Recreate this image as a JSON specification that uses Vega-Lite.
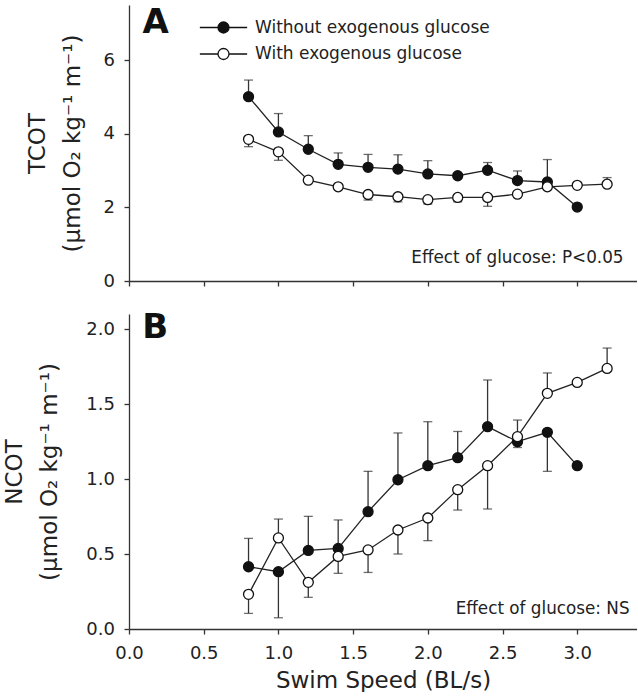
{
  "$schema": "https://vega.github.io/schema/vega-lite/v6.json",
  "padding": {"left": 3, "top": 5, "right": 0, "bottom": 0},
  "background": "white",
  "config": {
    "font": "DejaVu Sans",
    "view": {"stroke": null},
    "axis": {
      "grid": false,
      "domainColor": "#333",
      "tickColor": "#333",
      "domainWidth": 1.3,
      "tickWidth": 1.3,
      "tickSize": 5,
      "labelFont": "DejaVu Sans",
      "labelFontSize": 18,
      "labelColor": "#222",
      "labelFlush": false,
      "titleFont": "DejaVu Sans",
      "titleColor": "#222",
      "titleFontSize": 23,
      "titleFontWeight": "normal",
      "labelPadding": 9.5
    }
  },
  "datasets": {
    "tcot": [
      {"speed": 0.8, "group": "Without exogenous glucose", "value": 5.01, "err": 5.46},
      {"speed": 1.0, "group": "Without exogenous glucose", "value": 4.05, "err": 4.55},
      {"speed": 1.2, "group": "Without exogenous glucose", "value": 3.58, "err": 3.95},
      {"speed": 1.4, "group": "Without exogenous glucose", "value": 3.17, "err": 3.48},
      {"speed": 1.6, "group": "Without exogenous glucose", "value": 3.09, "err": 3.44},
      {"speed": 1.8, "group": "Without exogenous glucose", "value": 3.04, "err": 3.43},
      {"speed": 2.0, "group": "Without exogenous glucose", "value": 2.91, "err": 3.27},
      {"speed": 2.2, "group": "Without exogenous glucose", "value": 2.86, "err": null},
      {"speed": 2.4, "group": "Without exogenous glucose", "value": 3.01, "err": 3.22},
      {"speed": 2.6, "group": "Without exogenous glucose", "value": 2.73, "err": 2.99},
      {"speed": 2.8, "group": "Without exogenous glucose", "value": 2.69, "err": 3.30},
      {"speed": 3.0, "group": "Without exogenous glucose", "value": 2.01, "err": null},
      {"speed": 0.8, "group": "With exogenous glucose", "value": 3.85, "err": 3.65},
      {"speed": 1.0, "group": "With exogenous glucose", "value": 3.51, "err": 3.28},
      {"speed": 1.2, "group": "With exogenous glucose", "value": 2.74, "err": null},
      {"speed": 1.4, "group": "With exogenous glucose", "value": 2.56, "err": null},
      {"speed": 1.6, "group": "With exogenous glucose", "value": 2.35, "err": 2.20},
      {"speed": 1.8, "group": "With exogenous glucose", "value": 2.29, "err": 2.15},
      {"speed": 2.0, "group": "With exogenous glucose", "value": 2.21, "err": 2.09},
      {"speed": 2.2, "group": "With exogenous glucose", "value": 2.27, "err": 2.15},
      {"speed": 2.4, "group": "With exogenous glucose", "value": 2.27, "err": 2.03},
      {"speed": 2.6, "group": "With exogenous glucose", "value": 2.36, "err": null},
      {"speed": 2.8, "group": "With exogenous glucose", "value": 2.56, "err": null},
      {"speed": 3.0, "group": "With exogenous glucose", "value": 2.60, "err": null},
      {"speed": 3.2, "group": "With exogenous glucose", "value": 2.63, "err": 2.81}
    ],
    "ncot": [
      {"speed": 0.8, "group": "Without exogenous glucose", "value": 0.415, "err": 0.604},
      {"speed": 1.0, "group": "Without exogenous glucose", "value": 0.382, "err": 0.075},
      {"speed": 1.2, "group": "Without exogenous glucose", "value": 0.524, "err": 0.751},
      {"speed": 1.4, "group": "Without exogenous glucose", "value": 0.537, "err": 0.727},
      {"speed": 1.6, "group": "Without exogenous glucose", "value": 0.782, "err": 1.051},
      {"speed": 1.8, "group": "Without exogenous glucose", "value": 0.995, "err": 1.307},
      {"speed": 2.0, "group": "Without exogenous glucose", "value": 1.089, "err": 1.382},
      {"speed": 2.2, "group": "Without exogenous glucose", "value": 1.142, "err": 1.317},
      {"speed": 2.4, "group": "Without exogenous glucose", "value": 1.349, "err": 1.66},
      {"speed": 2.6, "group": "Without exogenous glucose", "value": 1.249, "err": 1.21},
      {"speed": 2.8, "group": "Without exogenous glucose", "value": 1.311, "err": 1.051},
      {"speed": 3.0, "group": "Without exogenous glucose", "value": 1.089, "err": null},
      {"speed": 0.8, "group": "With exogenous glucose", "value": 0.231, "err": 0.104},
      {"speed": 1.0, "group": "With exogenous glucose", "value": 0.607, "err": 0.733},
      {"speed": 1.2, "group": "With exogenous glucose", "value": 0.311, "err": 0.211},
      {"speed": 1.4, "group": "With exogenous glucose", "value": 0.484, "err": 0.371},
      {"speed": 1.6, "group": "With exogenous glucose", "value": 0.527, "err": 0.377},
      {"speed": 1.8, "group": "With exogenous glucose", "value": 0.66, "err": 0.5},
      {"speed": 2.0, "group": "With exogenous glucose", "value": 0.74, "err": 0.589},
      {"speed": 2.2, "group": "With exogenous glucose", "value": 0.929, "err": 0.793},
      {"speed": 2.4, "group": "With exogenous glucose", "value": 1.089, "err": 0.80},
      {"speed": 2.6, "group": "With exogenous glucose", "value": 1.282, "err": 1.393},
      {"speed": 2.8, "group": "With exogenous glucose", "value": 1.571, "err": 1.707},
      {"speed": 3.0, "group": "With exogenous glucose", "value": 1.644, "err": null},
      {"speed": 3.2, "group": "With exogenous glucose", "value": 1.737, "err": 1.873}
    ]
  },
  "spacing": 21,
  "resolve": {"scale": {"fill": "independent"}, "legend": {"fill": "independent"}},
  "vconcat": [
    {
      "width": 508,
      "height": 276,
      "layer": [
        {
          "data": {"name": "tcot"},
          "transform": [{"filter": "datum.err != null"}],
          "mark": {"type": "rule", "color": "#333", "strokeWidth": 1.3},
          "encoding": {
            "x": {"field": "speed", "type": "quantitative", "scale": {"domain": [0, 3.4], "nice": false}, "axis": {"title": null, "labels": false, "values": [0, 0.5, 1, 1.5, 2, 2.5, 3]}},
            "y": {"field": "value", "type": "quantitative", "scale": {"domain": [0, 7.5], "nice": false}, "axis": {"title": ["TCOT", "(µmol O₂ kg⁻¹ m⁻¹)"], "titleLineHeight": 35, "titlePadding": 19, "values": [0, 2, 4, 6]}},
            "y2": {"field": "err"}
          }
        },
        {
          "data": {"name": "tcot"},
          "transform": [{"filter": "datum.err != null"}],
          "mark": {"type": "tick", "orient": "horizontal", "color": "#333", "size": 9, "thickness": 1.3},
          "encoding": {
            "x": {"field": "speed", "type": "quantitative"},
            "y": {"field": "err", "type": "quantitative", "axis": {"title": ["TCOT", "(µmol O₂ kg⁻¹ m⁻¹)"], "titleLineHeight": 35, "titlePadding": 19, "values": [0, 2, 4, 6]}}
          }
        },
        {
          "data": {"name": "tcot"},
          "mark": {"type": "line", "color": "#222", "strokeWidth": 1.3},
          "encoding": {
            "x": {"field": "speed", "type": "quantitative"},
            "y": {"field": "value", "type": "quantitative"},
            "detail": {"field": "group"}
          }
        },
        {
          "data": {"name": "tcot"},
          "mark": {"type": "point", "shape": "circle", "filled": true, "size": 100, "stroke": "#111", "strokeWidth": 1.3, "opacity": 1},
          "encoding": {
            "x": {"field": "speed", "type": "quantitative"},
            "y": {"field": "value", "type": "quantitative"},
            "fill": {
              "field": "group",
              "type": "nominal",
              "scale": {"domain": ["Without exogenous glucose", "With exogenous glucose"], "range": ["#111", "white"]},
              "legend": {
                "title": null,
                "orient": "none",
                "legendX": 86,
                "legendY": 14,
                "padding": 0,
                "symbolType": "M-4.3,0H-1M1,0H4.3M-1,0A1,1,0,1,0,1,0A1,1,0,1,0,-1,0Z",
                "symbolSize": 121,
                "symbolStrokeColor": "#111",
                "symbolStrokeWidth": 1.3,
                "symbolOpacity": 1,
                "labelFont": "DejaVu Sans",
                "labelFontSize": 17,
                "labelColor": "#222",
                "labelLimit": 500,
                "labelOffset": 23,
                "rowPadding": 8.5
              }
            }
          }
        },
        {
          "data": {"values": [{}]},
          "mark": {"type": "text", "text": "A", "font": "DejaVu Sans", "fontWeight": "bold", "fontSize": 34, "align": "left", "baseline": "alphabetic", "color": "#111"},
          "encoding": {
            "x": {"datum": 0.09, "type": "quantitative"},
            "y": {"datum": 6.73, "type": "quantitative"}
          }
        },
        {
          "data": {"values": [{}]},
          "mark": {"type": "text", "text": "Effect of glucose: P<0.05", "font": "DejaVu Sans", "fontSize": 16.8, "align": "right", "baseline": "alphabetic", "color": "#222"},
          "encoding": {
            "x": {"datum": 3.31, "type": "quantitative"},
            "y": {"datum": 0.48, "type": "quantitative"}
          }
        }
      ]
    },
    {
      "width": 508,
      "height": 315,
      "layer": [
        {
          "data": {"name": "ncot"},
          "transform": [{"filter": "datum.err != null"}],
          "mark": {"type": "rule", "color": "#333", "strokeWidth": 1.3},
          "encoding": {
            "x": {"field": "speed", "type": "quantitative", "scale": {"domain": [0, 3.4], "nice": false}, "axis": {"title": "Swim Speed (BL/s)", "values": [0, 0.5, 1, 1.5, 2, 2.5, 3], "format": ".1f", "labelPadding": 10, "titlePadding": 7}},
            "y": {"field": "value", "type": "quantitative", "scale": {"domain": [0, 2.1], "nice": false}, "axis": {"title": ["NCOT", "(µmol O₂ kg⁻¹ m⁻¹)"], "titleLineHeight": 35, "titlePadding": 24, "values": [0, 0.5, 1, 1.5, 2], "format": ".1f"}},
            "y2": {"field": "err"}
          }
        },
        {
          "data": {"name": "ncot"},
          "transform": [{"filter": "datum.err != null"}],
          "mark": {"type": "tick", "orient": "horizontal", "color": "#333", "size": 9, "thickness": 1.3},
          "encoding": {
            "x": {"field": "speed", "type": "quantitative"},
            "y": {"field": "err", "type": "quantitative", "axis": {"title": ["NCOT", "(µmol O₂ kg⁻¹ m⁻¹)"], "titleLineHeight": 35, "titlePadding": 24, "values": [0, 0.5, 1, 1.5, 2], "format": ".1f"}}
          }
        },
        {
          "data": {"name": "ncot"},
          "mark": {"type": "line", "color": "#222", "strokeWidth": 1.3},
          "encoding": {
            "x": {"field": "speed", "type": "quantitative"},
            "y": {"field": "value", "type": "quantitative"},
            "detail": {"field": "group"}
          }
        },
        {
          "data": {"name": "ncot"},
          "mark": {"type": "point", "shape": "circle", "filled": true, "size": 100, "stroke": "#111", "strokeWidth": 1.3, "opacity": 1},
          "encoding": {
            "x": {"field": "speed", "type": "quantitative"},
            "y": {"field": "value", "type": "quantitative"},
            "fill": {
              "field": "group",
              "type": "nominal",
              "scale": {"domain": ["Without exogenous glucose", "With exogenous glucose"], "range": ["#111", "white"]},
              "legend": null
            }
          }
        },
        {
          "data": {"values": [{}]},
          "mark": {"type": "text", "text": "B", "font": "DejaVu Sans", "fontWeight": "bold", "fontSize": 34, "align": "left", "baseline": "alphabetic", "color": "#111"},
          "encoding": {
            "x": {"datum": 0.088, "type": "quantitative"},
            "y": {"datum": 1.94, "type": "quantitative"}
          }
        },
        {
          "data": {"values": [{}]},
          "mark": {"type": "text", "text": "Effect of glucose: NS", "font": "DejaVu Sans", "fontSize": 16.8, "align": "right", "baseline": "alphabetic", "color": "#222"},
          "encoding": {
            "x": {"datum": 3.35, "type": "quantitative"},
            "y": {"datum": 0.10, "type": "quantitative"}
          }
        }
      ]
    }
  ]
}
